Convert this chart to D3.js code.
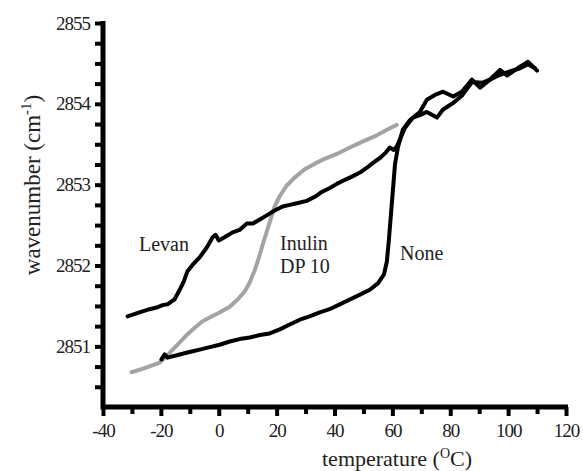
<!DOCTYPE html>
<html><head><meta charset="utf-8">
<script src="https://cdn.jsdelivr.net/npm/d3@7"></script>
<style>body{margin:0;background:#fff}svg{display:block}text{font-family:"Liberation Serif","Times New Roman",serif !important;fill:#222}</style>
</head><body><svg id="c" width="583" height="471"></svg>
<script>
// temperature (°C) and wavenumber (cm-1)
const levanT = [-31.5,-27.4,-23.9,-21.5,-19.4,-17.7,-15.3,-13.5,-12.1,-10.8,-9.0,-6.6,-4.2,-2.1,-1.1,0,2.0,4.8,7.2,9.7,11.8,14.2,17.0,19.3,22.1,24.5,27,30.4,33.2,35.6,38.4,40.8,43.6,46.0,48.8,51.2,53.3,55.7,57.8,59.1,60.5,61.5,64.3,67.1,69.5,71.9,75.4,77.5,81.0,84.0,87.5,91.0,93.7,97.2,100.6,104.1,106.9,109.3];
const levanV = [2851.37,2851.42,2851.46,2851.48,2851.51,2851.52,2851.58,2851.70,2851.80,2851.93,2852.01,2852.10,2852.22,2852.35,2852.38,2852.31,2852.35,2852.41,2852.44,2852.52,2852.52,2852.57,2852.63,2852.68,2852.73,2852.75,2852.77,2852.80,2852.85,2852.91,2852.96,2853.01,2853.06,2853.10,2853.15,2853.21,2853.27,2853.33,2853.40,2853.46,2853.43,2853.47,2853.70,2853.83,2853.86,2853.90,2853.83,2853.93,2854.01,2854.10,2854.27,2854.26,2854.30,2854.36,2854.40,2854.44,2854.49,2854.44];
const noneT = [-19.8,-18.7,-17.7,-13.5,-10.1,-6.6,-3.1,0.3,3.8,7.2,10.7,14.2,17.6,21.1,24.5,28.0,31.4,34.9,38.3,41.8,45.3,48.8,52.2,55.0,57.1,58.1,58.8,59.5,60.2,60.9,61.9,63.6,66.1,69.5,71.9,74.7,77.5,81.0,84.0,87.5,90.3,93.7,97.2,99.6,104.1,106.9,110.0];
const noneV = [2850.84,2850.90,2850.86,2850.90,2850.93,2850.96,2850.99,2851.02,2851.06,2851.09,2851.11,2851.14,2851.16,2851.21,2851.27,2851.33,2851.37,2851.42,2851.46,2851.52,2851.58,2851.64,2851.70,2851.78,2851.89,2852.05,2852.32,2852.63,2852.94,2853.25,2853.46,2853.68,2853.80,2853.90,2854.05,2854.11,2854.15,2854.09,2854.15,2854.30,2854.20,2854.30,2854.42,2854.35,2854.46,2854.52,2854.41];
const inulinT = [-30.1,-25.6,-20.4,-18.0,-15.9,-13.5,-11.1,-8.3,-5.6,-2.5,0.3,3.8,6.5,9.0,10.7,12.4,13.8,15.2,16.6,18.0,19.3,21.1,23.5,26.3,29.7,33.2,36.6,40.8,45.3,49.5,54.0,58.1,61.5];
const inulinV = [2850.68,2850.73,2850.80,2850.88,2850.96,2851.05,2851.14,2851.23,2851.31,2851.37,2851.42,2851.49,2851.58,2851.68,2851.79,2851.94,2852.09,2852.26,2852.42,2852.58,2852.73,2852.86,2852.99,2853.09,2853.19,2853.26,2853.32,2853.38,2853.46,2853.53,2853.60,2853.68,2853.74];
const xTickLabels = [-40,-20,0,20,40,60,80,100,120];
const yTickLabels = [2851,2852,2853,2854,2855];

const svg = d3.select("#c");
const x = d3.scaleLinear().domain([-40,120]).range([103,566]);
const y = d3.scaleLinear().domain([2850.25,2855]).range([407,23]);
const serif = '"Liberation Serif","Times New Roman",serif';

// tick marks
const gx = svg.append("g").attr("transform","translate(0,407)")
  .call(d3.axisBottom(x).tickValues(d3.range(-40,121,10)).tickSize(0).tickFormat(""));
gx.select(".domain").remove();
gx.selectAll(".tick").append("line").attr("y1",0).attr("y2",d=>d%20===0?9:7).attr("stroke","#000").attr("stroke-width",4);
// tick labels
const gxl = svg.append("g").attr("transform","translate(0,407)")
  .call(d3.axisBottom(x).tickValues(xTickLabels).tickSize(0).tickPadding(17).tickFormat(d=>String(d)));
gxl.select(".domain").remove();
gxl.attr("font-family",serif);
gxl.selectAll("text").style("font-family",serif).style("font-size","19px").attr("letter-spacing",-1).attr("fill","#222");

const gy = svg.append("g").attr("transform","translate(103,0)")
  .call(d3.axisLeft(y).tickValues(d3.range(2850.5,2855.01,0.25)).tickSize(0).tickFormat(""));
gy.select(".domain").remove();
gy.selectAll(".tick").append("line").attr("x1",0).attr("x2",-8).attr("stroke","#000").attr("stroke-width",4);
const gyl = svg.append("g").attr("transform","translate(103,0)")
  .call(d3.axisLeft(y).tickValues(yTickLabels).tickSize(0).tickPadding(13).tickFormat(d=>String(d)));
gyl.select(".domain").remove();
gyl.attr("font-family",serif);
gyl.selectAll("text").style("font-family",serif).style("font-size","19px").attr("letter-spacing",-1).attr("fill","#222");

svg.append("path").attr("d",`M${x(-40)},${y(2855)-2}V${y(2850.25)}H${x(120)+2}`).attr("fill","none").attr("stroke","#000").attr("stroke-width",5);

// lines
const line = d3.line().x(d=>x(d[0])).y(d=>y(d[1]));
const draw = (T,V,col)=>svg.append("path").datum(T.map((t,i)=>[t,V[i]])).attr("d",line)
  .attr("fill","none").attr("stroke",col).attr("stroke-width",4).attr("stroke-linejoin","round").attr("stroke-linecap","round");
draw(inulinT,inulinV,"#a3a3a3");
draw(levanT,levanV,"#000");
draw(noneT,noneV,"#000");

// labels
const lab = (t,xx,yy)=>svg.append("text").attr("x",xx).attr("y",yy).attr("font-size",20).text(t);
lab("Levan",139,251);
lab("Inulin",280,250);
lab("DP 10",280,273);
lab("None",400,260);

// axis titles
const xt = svg.append("text").attr("x",397).attr("y",466).attr("text-anchor","middle").attr("font-size",22);
xt.append("tspan").text("temperature (");
xt.append("tspan").attr("font-size",14).attr("dy",-8).text("O");
xt.append("tspan").attr("dy",8).text("C)");
const yt = svg.append("text").attr("transform","translate(40,185) rotate(-90)").attr("text-anchor","middle").attr("font-size",23);
yt.append("tspan").text("wavenumber (cm");
yt.append("tspan").attr("font-size",15).attr("dy",-9).text("-1");
yt.append("tspan").attr("dy",9).text(")");
</script></body></html>
